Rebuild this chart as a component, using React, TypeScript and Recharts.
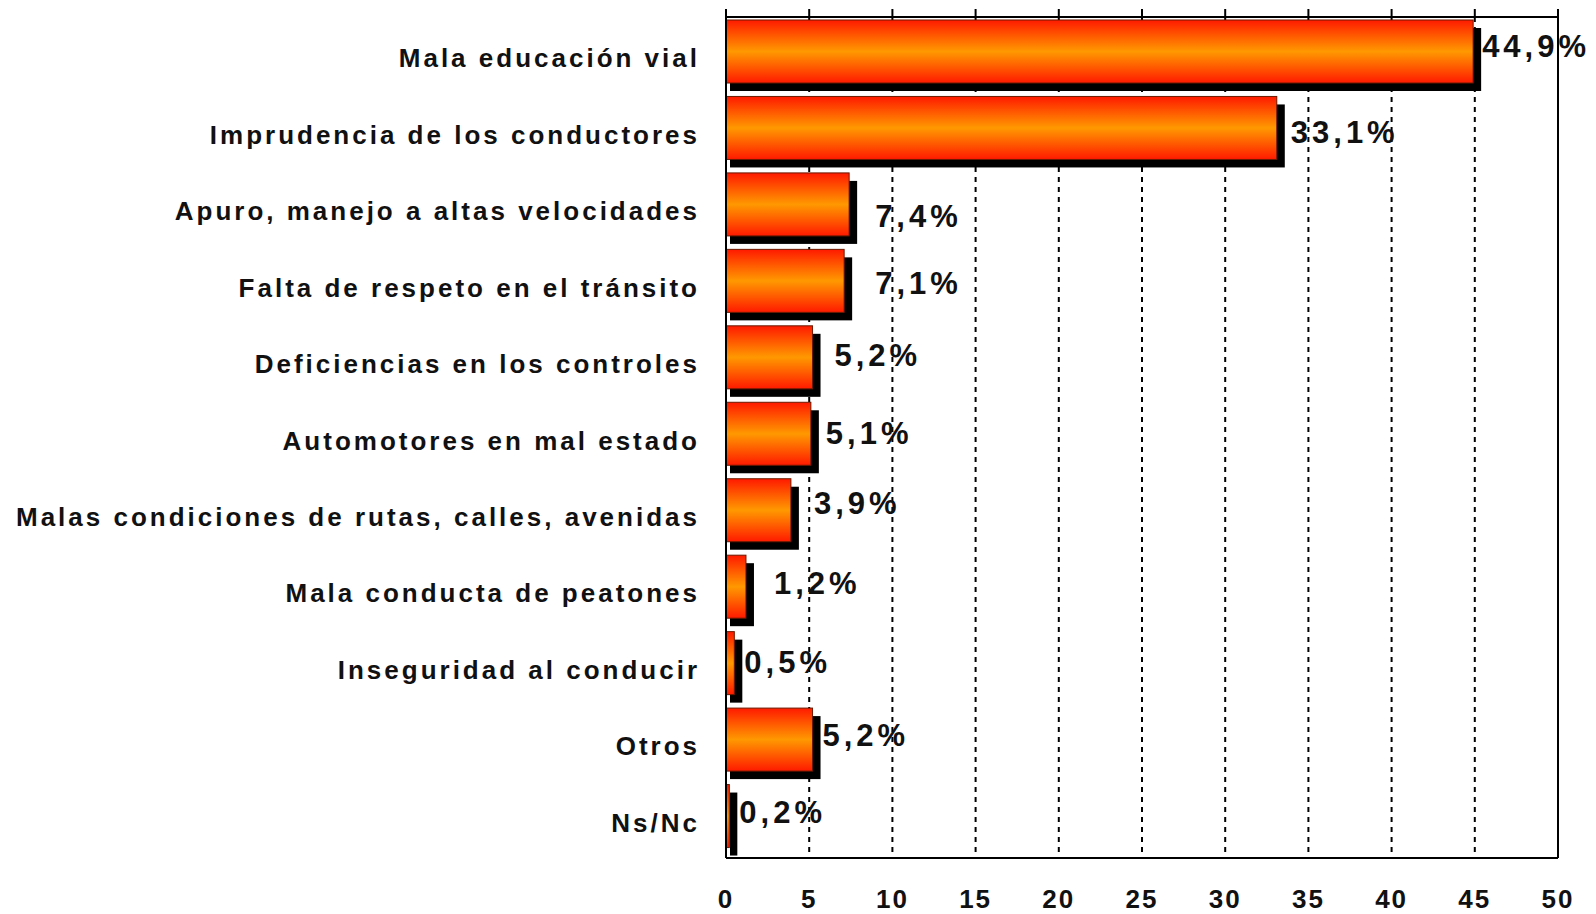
import React from "react";
import {
  BarChart,
  Bar,
  XAxis,
  YAxis,
  CartesianGrid,
  ReferenceLine,
  LabelList,
} from "recharts";

const CATEGORIES = [
  "Mala educación vial",
  "Imprudencia de los conductores",
  "Apuro, manejo a altas velocidades",
  "Falta de respeto en el tránsito",
  "Deficiencias en los controles",
  "Automotores en mal estado",
  "Malas condiciones de rutas, calles, avenidas",
  "Mala conducta de peatones",
  "Inseguridad al conducir",
  "Otros",
  "Ns/Nc",
];

const VALUES = [44.9, 33.1, 7.4, 7.1, 5.2, 5.1, 3.9, 1.2, 0.5, 5.2, 0.2];

const X_TICKS = [0, 5, 10, 15, 20, 25, 30, 35, 40, 45, 50];

// value labels are placed a little irregularly in the original
const LABEL_DX = [9, 14, 26, 31, 22, 15, 23, 28, 10, 10, 10];
const LABEL_DY = [-5, 5, 12, 3, -2, 0, -7, -3, -1, -4, -4];

const data = CATEGORIES.map((name, i) => ({ name, value: VALUES[i] }));

const FONT = "'Liberation Sans', Arial, Helvetica, sans-serif";
const SHADOW = 8;

/** 44.9 → "44,9%" */
function fmtPct(v: number) {
  return `${v.toFixed(1).replace(".", ",")}%`;
}

function ShadowBar(props: any) {
  const { x, y, width, height } = props;
  const h = height - SHADOW;
  return (
    <g>
      <rect
        x={x + 4}
        y={y + SHADOW}
        width={width + SHADOW - 4}
        height={h}
        fill="#000"
      />
      <rect
        x={x}
        y={y}
        width={width}
        height={h}
        fill="url(#barGrad)"
        stroke="#6b1a00"
        strokeWidth={1}
      />
    </g>
  );
}

function ValueLabel(props: any) {
  const { x, y, width, height, index, value } = props;
  const cy = y + (height - SHADOW) / 2 + LABEL_DY[index];
  return (
    <text
      x={x + width + LABEL_DX[index]}
      y={cy}
      dominantBaseline="central"
      textAnchor="start"
      fontSize={31}
      fontWeight={700}
      letterSpacing={4}
      fill="#111"
      fontFamily={FONT}
    >
      {fmtPct(value)}
    </text>
  );
}

function CategoryTick(props: any) {
  const { x, y, payload } = props;
  return (
    <text
      x={x}
      y={y + 3}
      dominantBaseline="central"
      textAnchor="end"
      fontSize={26}
      fontWeight={700}
      letterSpacing={3}
      fill="#111"
      fontFamily={FONT}
    >
      {payload.value}
    </text>
  );
}

export default function App() {
  return (
    <div style={{ width: 1588, height: 906, background: "#fff" }}>
      <BarChart
        width={1588}
        height={906}
        data={data}
        layout="vertical"
        margin={{ top: 0, right: 38, bottom: 0, left: 0 }}
        barSize={71}
        style={{ fontFamily: FONT }}
      >
        <defs>
          <linearGradient id="barGrad" x1="0" y1="0" x2="0" y2="1">
            <stop offset="0%" stopColor="#ff1a00" />
            <stop offset="50%" stopColor="#ff9900" />
            <stop offset="100%" stopColor="#ff1a00" />
          </linearGradient>
        </defs>
        <CartesianGrid
          horizontal={false}
          stroke="#000"
          strokeWidth={2}
          strokeDasharray="5 5"
        />
        <XAxis
          type="number"
          domain={[0, 50]}
          ticks={X_TICKS}
          interval={0}
          height={56}
          tickLine={false}
          tickSize={0}
          tickMargin={32}
          axisLine={{ stroke: "#000", strokeWidth: 2 }}
          tick={{ fontSize: 26, fontWeight: 700, fill: "#111", letterSpacing: 2 }}
        />
        <XAxis
          xAxisId="top"
          orientation="top"
          type="number"
          domain={[0, 50]}
          ticks={X_TICKS}
          interval={0}
          allowDataOverflow
          height={9}
          tickSize={8}
          tickLine={{ stroke: "#000", strokeWidth: 2 }}
          axisLine={{ stroke: "#000", strokeWidth: 2 }}
          tickFormatter={() => ""}
        />
        <YAxis
          type="category"
          dataKey="name"
          width={718}
          tickLine={false}
          tickSize={0}
          tickMargin={26}
          interval={0}
          axisLine={{ stroke: "#000", strokeWidth: 2 }}
          tick={<CategoryTick />}
        />
        <ReferenceLine x={50} stroke="#000" strokeWidth={2} />
        <Bar dataKey="value" shape={<ShadowBar />} isAnimationActive={false}>
          <LabelList dataKey="value" content={<ValueLabel />} />
        </Bar>
      </BarChart>
    </div>
  );
}
